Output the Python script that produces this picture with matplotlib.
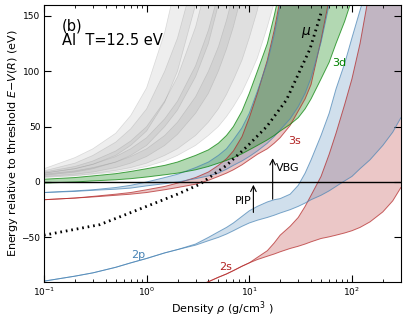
import numpy as np
import matplotlib
matplotlib.use("Agg")
import matplotlib.pyplot as plt

# density grid (g/cm^3) shared by all band edges
rho = [0.1, 0.2, 0.3, 0.5, 0.7, 1, 1.5, 2, 3, 4, 5, 6, 7, 8.5, 10, 12, 15, 17.5, 20,
       25, 30, 35, 40, 50, 60, 70, 85, 100, 120, 150, 200, 250, 300]
OFF = 400  # above the plot

# band edges (eV), lower / upper
s2_lo = [-140, -133, -128, -122, -118, -112, -106, -102, -95, -90, -86, -83, -80, -76, -73, -70, -67, -65, -63,
         -60, -58, -56, -54, -51, -49.5, -48, -46, -44, -41, -36, -27, -17, -5]
s2_hi = [-140, -133, -128, -122, -118, -112, -106, -102, -95, -90, -86, -83, -80, -76, -73, -68, -62, -55, -48,
         -40, -32, -22, -12, 5, 25, 44, 70, 93, 125, 175, 260]
p2_lo = [-89.5, -85, -82, -77, -73, -69, -64, -61, -57, -53, -50, -47, -44, -40, -37, -34.5, -32, -30, -28,
         -25, -22, -19, -16, -12, -8, -4, 1, 5, 12, 20, 33, 45, 58]
p2_hi = [-89.5, -85, -82, -77, -73, -69, -64, -61, -56, -50, -45, -41, -37, -31, -26, -22, -18, -16, -15,
         -11, -3, 8, 20, 42, 62, 84, 107, 130, 155, 185, 240, 290]
s3_lo = [-16, -14.5, -13.5, -12, -11, -9.5, -7, -5, -2, 1.5, 5, 8, 11, 15.5, 20, 25, 30, 35, 40,
         51, 64, 75, 88, 128, 165, 210]
s3_hi = [-16, -14.5, -13, -11, -9.5, -7, -4, -1, 4, 9, 15, 21, 28, 41, 58, 80, 110, 137, 165,
         215, 260]
p3_lo = [-9.5, -8.5, -7.5, -6.5, -5.5, -3.5, -1.5, 0, 3, 5.5, 8, 11.5, 15, 19, 23, 28, 35, 41, 47,
         57, 68, 80, 94, 126, 160, 205]
p3_hi = [-9.5, -8, -7, -5, -3, 0, 4, 7, 13, 18, 24, 30, 38, 49, 62, 82, 108, 133, 160,
         205, 250]
d3_lo = [-1, 0, 1, 2, 3, 4.5, 6.5, 8, 11, 14, 17, 19.5, 22, 25.5, 29, 33, 38, 42, 46,
         52, 58, 66, 75, 93, 108, 125, 145, 165, 195, 240, 320]
d3_hi = [2.5, 4, 5.5, 7.5, 9.5, 12, 15, 18, 24, 29, 35, 42, 50, 64, 80, 100, 125, 150, 175,
         225, 270]

# higher shells (gray), lower / upper edges
gray_lo = [
    [8, 12, 16, 24, 33, 46, 72, 100, 160, 220, 280],
    [6, 9, 12, 18, 24, 33, 50, 65, 95, 125, 160, 195, 230],
    [5, 7, 9, 13, 17, 23, 33, 43, 62, 80, 100, 120, 140, 170, 200],
    [4.5, 6, 7.5, 10.5, 13, 17, 24, 30, 42, 54, 66, 79, 92, 110, 130, 155, 200],
    [4, 5.5, 7, 9, 11, 14, 19, 24, 33, 42, 50, 59, 68, 81, 95, 112, 140, 162, 185, 230],
]
gray_hi = [
    [12, 22, 30, 44, 60, 85, 135, 185, 290],
    [10, 17, 24, 36, 48, 66, 100, 130, 190, 245, 300],
    [9, 14, 19, 28, 37, 50, 73, 95, 140, 185, 230],
    [8, 12, 16, 23, 30, 40, 57, 73, 105, 137, 170, 205],
    [7, 10, 13, 18, 23, 30, 42, 54, 77, 100, 122, 146, 170, 205],
]

# chemical potential
mu_rho = [0.1, 0.35, 1, 2, 3.3, 6, 9.5, 14.8, 23, 31, 39, 45.5, 51]
mu_E = [-48, -38.5, -22, -11, -2, 15, 32, 50, 74, 100, 120, 140, 155]

RED, BLUE, GREEN = "#b22222", "#4682b4", "#008000"


def pad(v):
    return np.array(v + [OFF] * (len(rho) - len(v)), dtype=float)


fig = plt.figure(figsize=(4.07, 3.21), dpi=100)
ax = fig.add_axes([0.108, 0.1224, 0.877, 0.8629])
x = np.array(rho)


def band(lo, hi, color, alpha, lw=0.7, la=0.7):
    lo, hi = pad(lo), pad(hi)
    ax.fill_between(x, lo, hi, color=color, alpha=alpha, lw=0)
    ax.plot(x, lo, color=color, lw=lw, alpha=la)
    ax.plot(x, hi, color=color, lw=lw, alpha=la)


for lo, hi in zip(gray_lo, gray_hi):
    band(lo, hi, "gray", 0.13, lw=0.5, la=0.25)

band(s2_lo, s2_hi, RED, 0.25)
band(s3_lo, s3_hi, RED, 0.25)
band(p2_lo, p2_hi, BLUE, 0.25)
band(p3_lo, p3_hi, BLUE, 0.25)
band(d3_lo, d3_hi, GREEN, 0.3)

ax.axhline(0, color="black", lw=1)
ax.plot(mu_rho, mu_E, color="black", lw=2, linestyle=(0, (0.6, 1.4)))

# labels
ax.text(0.82, -66, "2p", color=BLUE, fontsize=8, ha="center", va="center")
ax.text(5.9, -76.7, "2s", color=RED, fontsize=8, ha="center", va="center")
ax.text(27.8, 37, "3s", color=RED, fontsize=8, ha="center", va="center")
ax.text(74.5, 107.4, "3d", color=GREEN, fontsize=8, ha="center", va="center")
ax.text(35.6, 134.5, r"$\mu$", color="black", fontsize=10, ha="center", va="center")

ax.annotate("", xy=(10.97, 0), xytext=(10.97, -30),
            arrowprops=dict(arrowstyle="->", color="black", lw=0.8))
ax.annotate("", xy=(16.9, 24), xytext=(16.9, -18),
            arrowprops=dict(arrowstyle="->", color="black", lw=0.8))
ax.text(8.67, -17.2, "PIP", fontsize=8, ha="center", va="center")
ax.text(23.8, 12.6, "VBG", fontsize=8, ha="center", va="center")

ax.text(0.05, 0.952, "(b)", transform=ax.transAxes, fontsize=10.5, va="top")
ax.text(0.05, 0.898, "Al  T=12.5 eV", transform=ax.transAxes, fontsize=10.5, va="top")

ax.set_xscale("log")
ax.set_xlim(0.1, 300)
ax.set_ylim(-90, 160)
ax.set_yticks([-50, 0, 50, 100, 150])
ax.tick_params(which="both", direction="in", top=True, right=True, labelsize=6.5, pad=2.5)
ax.tick_params(which="major", length=5)
ax.tick_params(which="minor", length=2.5)

ax.set_xlabel(r"Density $\rho$ (g/cm$^3$ )", fontsize=8, labelpad=1)
ax.set_ylabel(r"Energy relative to threshold $E{-}V(R)$ (eV)", fontsize=8, labelpad=1)

fig.savefig("out.png", dpi=100)
